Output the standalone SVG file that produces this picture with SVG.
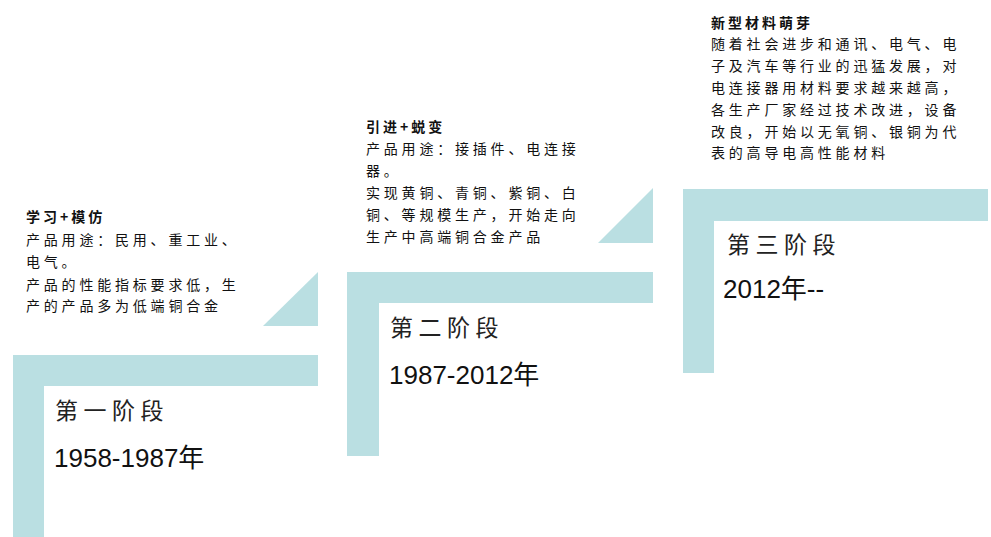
<svg xmlns="http://www.w3.org/2000/svg" width="991" height="537" viewBox="0 0 991 537">
<style>
.bar{fill:#badfe2}
.t{font-family:"Noto Sans CJK SC","Noto Sans",sans-serif;font-size:14px;letter-spacing:3.8px;fill:#111}
.h{font-weight:bold;letter-spacing:3px}
.st{font-family:"Noto Sans CJK SC",sans-serif;font-size:23px;letter-spacing:5.5px;fill:#222}
.yr{font-family:"Liberation Sans","Noto Sans CJK SC",sans-serif;font-size:26px;fill:#111}
</style>
<rect width="991" height="537" fill="#fff"/>
<g id="connectors">
<polygon class="bar" points="263,326 318,326 318,272"/>
<polygon class="bar" points="598,243 653,243 653,188"/>
</g>
<g id="stage1">
<path class="bar" d="M13,355 H318 V386 H44 V537 H13 Z"/>
<text class="t h" x="26" y="222">学习+模仿</text>
<text class="t" x="26" y="245">产品用途：民用、重工业、</text>
<text class="t" x="26" y="267">电气。</text>
<text class="t" x="26" y="290">产品的性能指标要求低，生</text>
<text class="t" x="26" y="311">产的产品多为低端铜合金</text>
<text class="st" x="55" y="419">第一阶段</text>
<text class="yr" x="54" y="467">1958-1987年</text>
</g>
<g id="stage2">
<path class="bar" d="M347,272 H653 V303 H379 V456 H347 Z"/>
<text class="t h" x="366" y="132">引进+蜕变</text>
<text class="t" x="366" y="154">产品用途：接插件、电连接</text>
<text class="t" x="366" y="176">器。</text>
<text class="t" x="366" y="198">实现黄铜、青铜、紫铜、白</text>
<text class="t" x="366" y="220">铜、等规模生产，开始走向</text>
<text class="t" x="366" y="242">生产中高端铜合金产品</text>
<text class="st" x="390" y="336">第二阶段</text>
<text class="yr" x="389" y="384">1987-2012年</text>
</g>
<g id="stage3">
<path class="bar" d="M683,189 H988 V221 H714 V373 H683 Z"/>
<text class="t h" x="711" y="28">新型材料萌芽</text>
<text class="t" x="711" y="49">随着社会进步和通讯、电气、电</text>
<text class="t" x="711" y="71">子及汽车等行业的迅猛发展，对</text>
<text class="t" x="711" y="93">电连接器用材料要求越来越高，</text>
<text class="t" x="711" y="115">各生产厂家经过技术改进，设备</text>
<text class="t" x="711" y="137">改良，开始以无氧铜、银铜为代</text>
<text class="t" x="711" y="158">表的高导电高性能材料</text>
<text class="st" x="727" y="253">第三阶段</text>
<text class="yr" x="723" y="298">2012年--</text>
</g>
</svg>
